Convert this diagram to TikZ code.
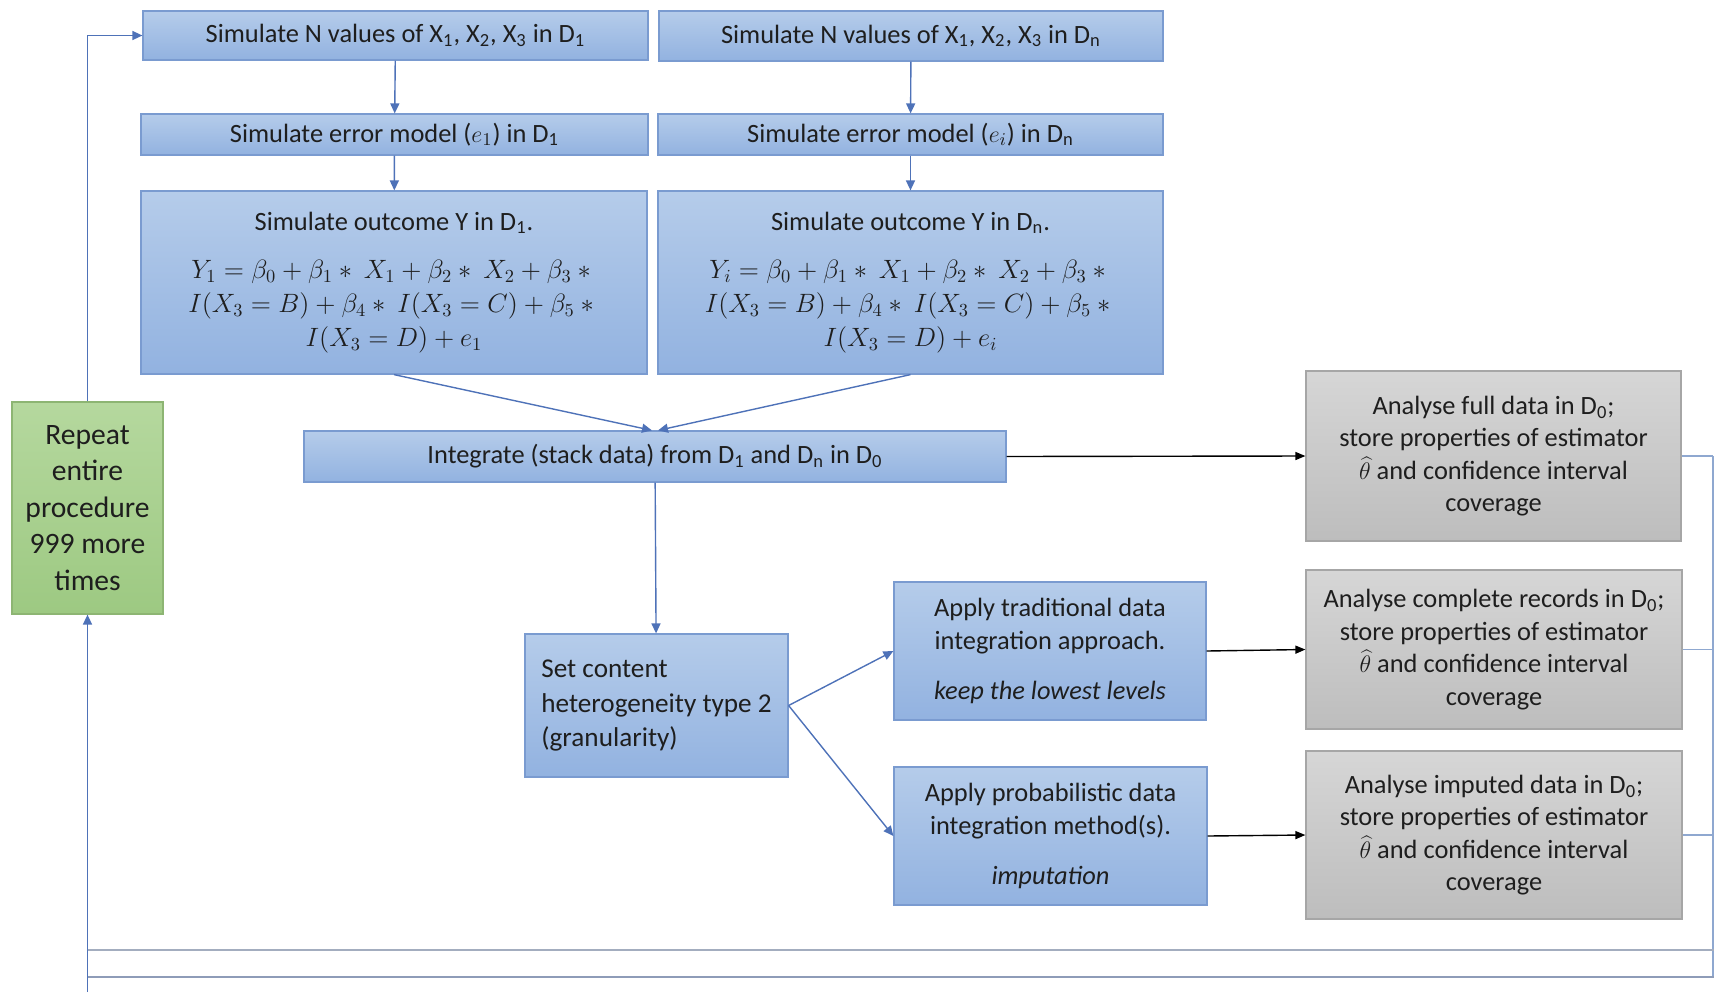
\documentclass[tikz,border=0pt]{standalone}
\usepackage{graphicx}
\usepackage{fontspec}
\setmainfont{Carlito}
\usetikzlibrary{arrows.meta}
\definecolor{bluetop}{HTML}{B5CCEA}
\definecolor{bluebot}{HTML}{92B2E0}
\definecolor{blueborder}{HTML}{7A9BD0}
\definecolor{greytop}{HTML}{D6D6D6}
\definecolor{greybot}{HTML}{BDBDBD}
\definecolor{greyborder}{HTML}{A6A6A6}
\definecolor{greentop}{HTML}{B5D89E}
\definecolor{greenbot}{HTML}{9DC982}
\definecolor{greenborder}{HTML}{8DB573}
\definecolor{lineblue}{HTML}{4E72B8}
\definecolor{textdark}{HTML}{1E1E1E}
\definecolor{frameblue}{HTML}{8FA8D0}
\definecolor{bottomgrey}{HTML}{A3ADBF}
\definecolor{bottomblue}{HTML}{8E9CB8}
\newcommand{\ssb}[1]{\textsubscript{#1}}
\newcommand{\eqline}[1]{\scalebox{0.92}{\fontsize{14.4}{17}\selectfont$#1$}}
\begin{document}
\begin{tikzpicture}[x=0.5pt,y=-0.5pt,
  base/.style={draw, line width=0.6pt, inner sep=0pt, align=center, text=textdark, font=\fontsize{13.2}{16.2}\selectfont},
  bluebox/.style={base, draw=blueborder, top color=bluetop, bottom color=bluebot},
  greybox/.style={base, draw=greyborder, top color=greytop, bottom color=greybot},
  greenbox/.style={base, draw=greenborder, top color=greentop, bottom color=greenbot, font=\fontsize{14.8}{18.3}\selectfont},
  eqbox/.style={bluebox, font=\fontsize{13.2}{17}\selectfont},
  flow/.style={draw=lineblue, line width=0.7pt, -{Triangle[length=5pt,width=4.5pt]}},
  blackflow/.style={draw=black, line width=0.7pt, -{Triangle[length=5pt,width=4pt]}},
  plain/.style={draw=frameblue, line width=0.7pt},
]
\useasboundingbox (0,0) rectangle (1714,992);

% top row
\node[bluebox, minimum width=252.5pt, minimum height=24.5pt] (a1) at (395.5,35.5)
  {Simulate N values of X\ssb{1}, X\ssb{2}, X\ssb{3} in D\ssb{1}};
\node[bluebox, minimum width=252pt, minimum height=25pt] (a2) at (911,36)
  {Simulate N values of X\ssb{1}, X\ssb{2}, X\ssb{3} in D\ssb{n}};
\node[bluebox, minimum width=253.5pt, minimum height=20.5pt] (b1) at (394.5,134.5)
  {Simulate error model ($e_1$) in D\ssb{1}};
\node[bluebox, minimum width=252.5pt, minimum height=20.5pt] (b2) at (910.5,134.5)
  {Simulate error model ($e_i$) in D\ssb{n}};
\node[eqbox, minimum width=253pt, minimum height=91.5pt] (c1) at (394,282.5)
  {Simulate outcome Y in D\ssb{1}.\\[7pt]
   \eqline{Y_1=\beta_0+\beta_1*\ X_1+\beta_2*\ X_2+\beta_3*{}}\\
   \eqline{I(X_3=B)+\beta_4*\ I(X_3=C)+\beta_5*{}}\\
   \eqline{I(X_3=D)+e_1}};
\node[eqbox, minimum width=252.5pt, minimum height=91.5pt] (c2) at (910.5,282.5)
  {Simulate outcome Y in D\ssb{n}.\\[7pt]
   \eqline{Y_i=\beta_0+\beta_1*\ X_1+\beta_2*\ X_2+\beta_3*{}}\\
   \eqline{I(X_3=B)+\beta_4*\ I(X_3=C)+\beta_5*{}}\\
   \eqline{I(X_3=D)+e_i}};

\node[bluebox, minimum width=351pt, minimum height=25.5pt] (integ) at (655,456.5)
  {Integrate (stack data) from D\ssb{1} and D\ssb{n} in D\ssb{0}};

\node[bluebox, minimum width=131.5pt, minimum height=71.5pt, align=left,
  font=\fontsize{13.6}{17.2}\selectfont] (set) at (656.5,705.5)
  {Set content\\heterogeneity type 2\\(granularity)};

\node[bluebox, minimum width=156pt, minimum height=69pt] (trad) at (1050,651)
  {Apply traditional data\\integration approach.\\[9pt]\textit{keep the lowest levels}};
\node[bluebox, minimum width=156.5pt, minimum height=69pt] (prob) at (1050.5,836)
  {Apply probabilistic data\\integration method(s).\\[9pt]\textit{imputation}};

\node[greybox, minimum width=187.5pt, minimum height=85pt] (g1) at (1493.5,456)
  {Analyse full data in D\ssb{0};\\store properties of estimator\\$\widehat{\theta}$ and confidence interval\\coverage};
\node[greybox, minimum width=188pt, minimum height=79.5pt] (g2) at (1494,649.5)
  {Analyse complete records in D\ssb{0};\\store properties of estimator\\$\widehat{\theta}$ and confidence interval\\coverage};
\node[greybox, minimum width=188pt, minimum height=84pt] (g3) at (1494,835)
  {Analyse imputed data in D\ssb{0};\\store properties of estimator\\$\widehat{\theta}$ and confidence interval\\coverage};

\node[greenbox, minimum width=75.5pt, minimum height=106pt] (rep) at (87.5,508)
  {Repeat\\entire\\procedure\\999 more\\times};

% coordinates for free ends
\coordinate (bot) at (87.5,992);
\coordinate (la) at (87.5,950);
\coordinate (lb) at (1714,950);
\coordinate (ma) at (87.5,977);
\coordinate (mb) at (1714,977);
\coordinate (rtop) at (1713,456);
\coordinate (rbot) at (1713,977);

% connectors
\draw[flow] (a1) -- (b1);
\draw[flow] (a2) -- (b2);
\draw[flow] (b1) -- (c1);
\draw[flow] (b2) -- (c2);
\draw[flow] (c1.south) -- ([xshift=-1.5pt]integ.north);
\draw[flow] (c2.south) -- ([xshift=1.5pt]integ.north);
\draw[flow] (integ) -- (set);
\draw[flow] (set.east) -- (trad.west);
\draw[flow] (set.east) -- (prob.west);
\draw[blackflow] (integ.east) -- (g1.west);
\draw[blackflow] (trad.east) -- (g2.west);
\draw[blackflow] (prob.east) -- (g3.west);
\draw[flow] (rep.north) |- (a1.west);
\draw[flow] (bot) -- (rep.south);
\draw[plain] (g1.east) -- (g1.east -| rtop);
\draw[plain] (g2.east) -- (g2.east -| rtop);
\draw[plain] (g3.east) -- (g3.east -| rtop);
\draw[plain] (rtop) -- (rbot);
\draw[draw=bottomgrey, line width=0.9pt] (la) -- (lb);
\draw[draw=bottomblue, line width=0.9pt] (ma) -- (mb);
\end{tikzpicture}
\end{document}
